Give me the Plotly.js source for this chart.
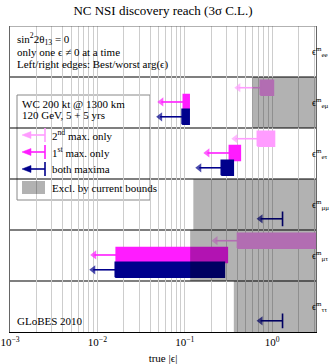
<!DOCTYPE html>
<html>
<head>
<meta charset="utf-8">
<script src="https://cdn.plot.ly/plotly-3.0.1.min.js"></script>
<style>html,body{margin:0;padding:0;background:#fff;}#chart{width:332px;height:364px;}</style>
</head>
<body>
<div id="chart"></div>
<script>
// ---- data ----
// rows from top to bottom
const rowNames = ['ee', 'eμ', 'eτ', 'μμ', 'μτ', 'ττ'];
// left edge = best arg(eps), right edge = worst arg(eps); null = not shown
const secondLeft  = [null, 0.73, 0.675, null, 0.40, null];
const secondRight = [null, 1.03, 1.06, null, 4.0, null];
const firstLeft   = [null, 0.096, 0.323, null, 0.0164, null];
const firstRight  = [null, 0.112, 0.431, null, 0.306, null];
const bothLeft    = [null, 0.093, 0.261, 1.31, 0.0160, 1.31];
const bothRight   = [null, 0.112, 0.358, 1.31, 0.283, 1.31];
// lower end of region excluded by current bounds (extends past the axis)
const boundLow    = [null, 0.59, null, 0.125, 0.115, 0.363];
const boundHigh   = [null, 10, null, 10, 10, 10];
// axis tick labels
const decadeVals  = [0.001, 0.01, 0.1, 1];
const decadeText  = ['10<sup>−3</sup>', '10<sup>−2</sup>', '10<sup>−1</sup>', '10<sup>0</sup>'];

// ---- styles / geometry ----
const FONT = 'Liberation Serif, Times New Roman, serif';
const C2 = '#ff9cff', C1 = '#ff1cff', CB = '#00008c';
const series = [
  {L: secondLeft, R: secondRight, col: C2, yc: 0.79},
  {L: firstLeft,  R: firstRight,  col: C1, yc: 0.51},
  {L: bothLeft,   R: bothRight,   col: CB, yc: 0.22}
];
const HH = 0.145;
const nRows = rowNames.length;
const PL = 10, PR = 16, PT = 26, PB = 32, W = 332, H = 364;
const XR = [-3, 0.5];
const pw = W - PL - PR, ph = H - PT - PB;
const pxPerDecade = pw / (XR[1] - XR[0]);
const ARROW_PX = 22;               // arrow length in pixels (style)
const arrowFactor = Math.pow(10, ARROW_PX / pxPerDecade);

// minor grid values (2..9 x decade)
const minorVals = [];
decadeVals.forEach(d => {
  for (let m = 2; m <= 9; m++) {
    const v = +(m * d).toPrecision(3);
    if (v <= 3.2) minorVals.push(v);
  }
});

const traces = [];
series.forEach(s => {
  for (let i = 0; i < nRows; i++) {
    if (s.L[i] == null) continue;
    const yb = nRows - 1 - i;
    const y0 = yb + s.yc - HH, y1 = yb + s.yc + HH;
    traces.push({
      type: 'scatter', mode: 'lines', fill: 'toself', fillcolor: s.col,
      x: [s.L[i], s.R[i], s.R[i], s.L[i], s.L[i]],
      y: [y0, y0, y1, y1, y0],
      line: {color: s.col, width: 1.6}, hoverinfo: 'skip', showlegend: false
    });
    // arrow pointing left from the best-arg edge
    traces.push({
      type: 'scatter', mode: 'lines+markers',
      x: [s.L[i], s.L[i] / arrowFactor], y: [yb + s.yc, yb + s.yc],
      line: {color: s.col, width: 1.6},
      marker: {symbol: 'triangle-left', size: [0, 8], color: s.col, line: {width: 0}},
      hoverinfo: 'skip', showlegend: false
    });
  }
});
// excluded regions (drawn on top, semi-transparent)
for (let i = 0; i < nRows; i++) {
  if (boundLow[i] == null) continue;
  const yb = nRows - 1 - i;
  traces.push({
    type: 'scatter', mode: 'lines', fill: 'toself', fillcolor: 'rgba(0,0,0,0.3)',
    x: [boundLow[i], boundHigh[i], boundHigh[i], boundLow[i], boundLow[i]],
    y: [yb, yb, yb + 1, yb + 1, yb],
    line: {width: 0, color: 'rgba(0,0,0,0)'}, hoverinfo: 'skip', showlegend: false
  });
}

const annotations = [];
const px = v => (v - PL) / pw;
const py = v => (H - PB - v) / ph;

// row labels
rowNames.forEach((r, i) => {
  annotations.push({
    x: px(311), xref: 'paper', xanchor: 'left', y: nRows - 1 - i + 0.5, yref: 'y',
    text: 'ϵ<sup>m</sup><sub>' + r + '</sub>', showarrow: false,
    font: {family: FONT, size: 10}, borderpad: 0
  });
});

const texts = [
  ['sin<sup>2</sup>2θ<sub>13</sub> = 0', 15, 39],
  ['only one ϵ ≠ 0 at a time', 15, 52],
  ['Left/right edges: Best/worst arg(ϵ)', 15, 64],
  ['WC 200 kt @ 1300 km', 20, 104],
  ['120 GeV, 5 + 5 yrs', 20, 115],
  ['2<sup>nd</sup> max. only', 50, 135],
  ['1<sup>st</sup> max. only', 50, 152],
  ['both maxima', 50, 169],
  ['Excl. by current bounds', 50, 188],
  ['GLoBES 2010', 15, 321]
];
texts.forEach(t => annotations.push({
  x: px(t[1]), y: py(t[2]), xref: 'paper', yref: 'paper', xanchor: 'left', yanchor: 'middle',
  text: t[0], showarrow: false, font: {family: FONT, size: 11}
}));

const shapes = [];
// legend box
shapes.push({type: 'rect', xref: 'paper', yref: 'paper', x0: px(17), x1: px(150), y0: py(200), y1: py(95),
  fillcolor: '#fff', line: {color: '#888', width: 1}, layer: 'between'});
// row separators
for (let k = 1; k < nRows; k++) {
  shapes.push({type: 'line', xref: 'paper', yref: 'y', x0: 0, x1: 1, y0: k, y1: k,
    line: {color: '#000', width: 1.2}, layer: 'between'});
}
shapes.push({type: 'line', xref: 'paper', yref: 'y', x0: 0, x1: 1, y0: nRows, y1: nRows,
  line: {color: '#666', width: 1}, layer: 'above'});
// legend symbols: bar + arrow
[[C2, 135], [C1, 152], [CB, 169]].forEach(e => {
  const yc = e[1];
  shapes.push({type: 'line', xref: 'paper', yref: 'paper', x0: px(45), x1: px(45),
    y0: py(yc - 7), y1: py(yc + 7), line: {color: e[0], width: 1.6}, layer: 'above'});
  shapes.push({type: 'line', xref: 'paper', yref: 'paper', x0: px(30), x1: px(45),
    y0: py(yc), y1: py(yc), line: {color: e[0], width: 1.6}, layer: 'above'});
  const path = 'M' + px(22) + ',' + py(yc) + ' L' + px(31) + ',' + py(yc - 3.5) +
    ' L' + px(31) + ',' + py(yc + 3.5) + ' Z';
  shapes.push({type: 'path', xref: 'paper', yref: 'paper', path: path,
    fillcolor: e[0], line: {color: e[0], width: 0.5}, layer: 'above'});
});
shapes.push({type: 'rect', xref: 'paper', yref: 'paper', x0: px(22), x1: px(45), y0: py(194), y1: py(181),
  fillcolor: 'rgba(0,0,0,0.3)', line: {width: 0}, layer: 'above'});

const layout = {
  width: W, height: H,
  margin: {l: PL, r: PR, t: PT, b: PB},
  paper_bgcolor: '#fff', plot_bgcolor: '#fff',
  font: {family: FONT, size: 11, color: '#000'},
  title: {text: 'NC NSI discovery reach (3σ C.L.)', font: {family: FONT, size: 13},
    x: 0.5, xref: 'paper', xanchor: 'center', y: 1 - 10 / H, yref: 'container', yanchor: 'middle'},
  xaxis: {type: 'log', range: XR, tickmode: 'array', tickvals: decadeVals, ticktext: decadeText,
    showgrid: true, gridcolor: '#cdcdcd', gridwidth: 1, ticks: '', showline: true, linecolor: '#000',
    linewidth: 1.2, zeroline: false, automargin: false, tickfont: {family: FONT, size: 11},
    minor: {tickmode: 'array', tickvals: minorVals, showgrid: true, gridcolor: '#cdcdcd', gridwidth: 1, ticks: ''},
    title: {text: 'true |ϵ|', font: {family: FONT, size: 11}, standoff: 10}},
  yaxis: {range: [0, nRows], showgrid: false, showticklabels: false, ticks: '', zeroline: false,
    showline: true, linecolor: '#666', mirror: true, automargin: false},
  shapes: shapes,
  annotations: annotations,
  showlegend: false
};

Plotly.newPlot('chart', traces, layout, {staticPlot: true, displayModeBar: false});
</script>
</body>
</html>
